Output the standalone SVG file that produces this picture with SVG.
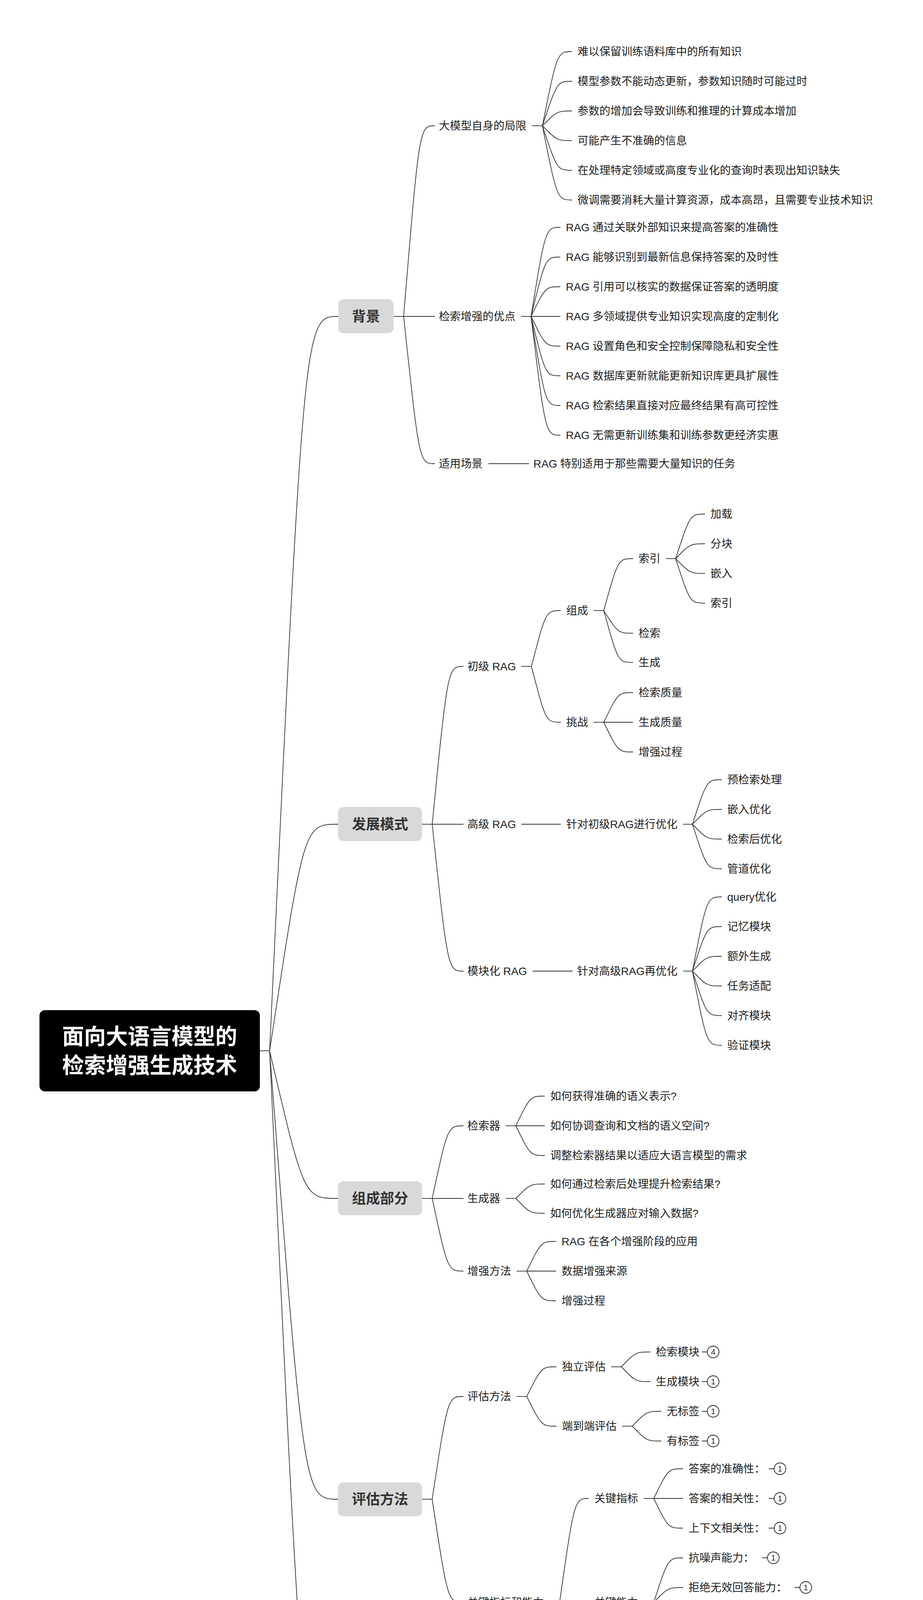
<svg xmlns="http://www.w3.org/2000/svg" width="2362" height="4772" viewBox="0 0 2362 4772">
<style>
text{font-family:"Liberation Sans","Noto Sans CJK SC",sans-serif;}
.t{font-size:28px;fill:#1e1e1e;}
.h{font-size:36px;font-weight:bold;fill:#333333;text-anchor:middle;}
.r{font-size:56px;font-weight:bold;fill:#ffffff;text-anchor:middle;}
.box{fill:#d9d9d9;}
.c path{fill:none;stroke:#333333;stroke-width:1.8;}
.bd line{stroke:#222222;stroke-width:1.8;}
.bd circle{fill:#ffffff;stroke:#222222;stroke-width:1.8;}
.bn{font-size:20px;fill:#222222;text-anchor:middle;}
</style>
<rect width="2362" height="4772" fill="#ffffff"/>
<g id="connectors" class="c">
<path d="M665 2690 L690 2690"/>
<path d="M690 2690 C778 810 778 810 866 810"/>
<path d="M690 2690 C778 2110 778 2110 865 2110"/>
<path d="M690 2690 C778 3068 778 3068 865 3068"/>
<path d="M690 2690 C778 3838 778 3838 865 3838"/>
<path d="M690 2690 C778 4570 778 4570 866 4570"/>
<path d="M1007 810 L1033 810"/>
<path d="M1080 2110 L1106 2110"/>
<path d="M1080 3068 L1106 3068"/>
<path d="M1080 3838 L1106 3838"/>
<path d="M1260 4570 L1286 4570"/>
<path d="M1033 810 C1073 322 1073 322 1113 322"/>
<path d="M1033 810 L1113 810"/>
<path d="M1033 810 C1073 1187 1073 1187 1113 1187"/>
<path d="M1361 322 L1388 322"/>
<path d="M1388 322 C1426 132 1426 132 1464 132"/>
<path d="M1388 322 C1426 208 1426 208 1464 208"/>
<path d="M1388 322 C1426 284 1426 284 1464 284"/>
<path d="M1388 322 C1426 360 1426 360 1464 360"/>
<path d="M1388 322 C1426 436 1426 436 1464 436"/>
<path d="M1388 322 C1426 512 1426 512 1464 512"/>
<path d="M1333 810 L1359 810"/>
<path d="M1359 810 C1396 582 1396 582 1434 582"/>
<path d="M1359 810 C1396 658 1396 658 1434 658"/>
<path d="M1359 810 C1396 734 1396 734 1434 734"/>
<path d="M1359 810 L1434 810"/>
<path d="M1359 810 C1396 886 1396 886 1434 886"/>
<path d="M1359 810 C1396 962 1396 962 1434 962"/>
<path d="M1359 810 C1396 1038 1396 1038 1434 1038"/>
<path d="M1359 810 C1396 1114 1396 1114 1434 1114"/>
<path d="M1250 1187 L1354 1187"/>
<path d="M1106 2110 C1146 1706 1146 1706 1186 1706"/>
<path d="M1106 2110 L1186 2110"/>
<path d="M1106 2110 C1146 2486 1146 2486 1186 2486"/>
<path d="M1334 1706 L1360 1706"/>
<path d="M1360 1706 C1397 1563 1397 1563 1435 1563"/>
<path d="M1360 1706 C1397 1849 1397 1849 1435 1849"/>
<path d="M1519 1563 L1545 1563"/>
<path d="M1545 1563 C1582 1430 1582 1430 1620 1430"/>
<path d="M1545 1563 C1582 1621 1582 1621 1620 1621"/>
<path d="M1545 1563 C1582 1696 1582 1696 1620 1696"/>
<path d="M1704 1430 L1729 1430"/>
<path d="M1729 1430 C1766 1316 1766 1316 1804 1316"/>
<path d="M1729 1430 C1766 1392 1766 1392 1804 1392"/>
<path d="M1729 1430 C1766 1468 1766 1468 1804 1468"/>
<path d="M1729 1430 C1766 1544 1766 1544 1804 1544"/>
<path d="M1519 1849 L1545 1849"/>
<path d="M1545 1849 C1582 1773 1582 1773 1620 1773"/>
<path d="M1545 1849 L1620 1849"/>
<path d="M1545 1849 C1582 1925 1582 1925 1620 1925"/>
<path d="M1334 2110 L1435 2110"/>
<path d="M1748 2110 L1772 2110"/>
<path d="M1772 2110 C1809 1996 1809 1996 1847 1996"/>
<path d="M1772 2110 C1809 2072 1809 2072 1847 2072"/>
<path d="M1772 2110 C1809 2148 1809 2148 1847 2148"/>
<path d="M1772 2110 C1809 2224 1809 2224 1847 2224"/>
<path d="M1363 2486 L1465 2486"/>
<path d="M1748 2486 L1772 2486"/>
<path d="M1772 2486 C1809 2296 1809 2296 1847 2296"/>
<path d="M1772 2486 C1809 2372 1809 2372 1847 2372"/>
<path d="M1772 2486 C1809 2448 1809 2448 1847 2448"/>
<path d="M1772 2486 C1809 2524 1809 2524 1847 2524"/>
<path d="M1772 2486 C1809 2600 1809 2600 1847 2600"/>
<path d="M1772 2486 C1809 2676 1809 2676 1847 2676"/>
<path d="M1106 3068 C1146 2882 1146 2882 1186 2882"/>
<path d="M1106 3068 L1186 3068"/>
<path d="M1106 3068 C1146 3254 1146 3254 1186 3254"/>
<path d="M1294 2882 L1320 2882"/>
<path d="M1320 2882 C1357 2806 1357 2806 1394 2806"/>
<path d="M1320 2882 L1394 2882"/>
<path d="M1320 2882 C1357 2958 1357 2958 1394 2958"/>
<path d="M1294 3068 L1320 3068"/>
<path d="M1320 3068 C1357 3031 1357 3031 1394 3031"/>
<path d="M1320 3068 C1357 3106 1357 3106 1394 3106"/>
<path d="M1322 3254 L1348 3254"/>
<path d="M1348 3254 C1385 3178 1385 3178 1423 3178"/>
<path d="M1348 3254 L1423 3254"/>
<path d="M1348 3254 C1385 3330 1385 3330 1423 3330"/>
<path d="M1106 3838 C1146 3575 1146 3575 1186 3575"/>
<path d="M1106 3838 C1146 4102 1146 4102 1186 4102"/>
<path d="M1322 3575 L1348 3575"/>
<path d="M1348 3575 C1386 3499 1386 3499 1424 3499"/>
<path d="M1348 3575 C1386 3651 1386 3651 1424 3651"/>
<path d="M1564 3499 L1590 3499"/>
<path d="M1590 3499 C1627 3461 1627 3461 1664 3461"/>
<path d="M1590 3499 C1627 3537 1627 3537 1664 3537"/>
<path d="M1592 3651 L1618 3651"/>
<path d="M1618 3651 C1655 3613 1655 3613 1692 3613"/>
<path d="M1618 3651 C1655 3689 1655 3689 1692 3689"/>
<path d="M1406 4102 L1432 4102"/>
<path d="M1432 4102 C1470 3836 1470 3836 1507 3836"/>
<path d="M1432 4102 L1507 4102"/>
<path d="M1432 4102 C1470 4328 1470 4328 1507 4328"/>
<path d="M1647 3836 L1673 3836"/>
<path d="M1673 3836 C1710 3760 1710 3760 1748 3760"/>
<path d="M1673 3836 L1748 3836"/>
<path d="M1673 3836 C1710 3912 1710 3912 1748 3912"/>
<path d="M1647 4102 L1673 4102"/>
<path d="M1673 4102 C1710 3988 1710 3988 1748 3988"/>
<path d="M1673 4102 C1710 4064 1710 4064 1748 4064"/>
<path d="M1673 4102 C1710 4140 1710 4140 1748 4140"/>
<path d="M1673 4102 C1710 4216 1710 4216 1748 4216"/>
<path d="M1647 4328 L1673 4328"/>
<path d="M1673 4328 C1710 4290 1710 4290 1748 4290"/>
<path d="M1673 4328 C1710 4366 1710 4366 1748 4366"/>
<path d="M1286 4570 C1325 4497 1325 4497 1365 4497"/>
<path d="M1286 4570 L1365 4570"/>
<path d="M1286 4570 C1325 4643 1325 4643 1365 4643"/>
</g>
<g id="root">
<rect x="101" y="2586" width="564" height="208" rx="14" fill="#000000"/>
<text class="r" x="383" y="2673">面向大语言模型的</text>
<text class="r" x="383" y="2747">检索增强生成技术</text>
</g>
<g id="n-bg"><rect class="box" x="866" y="766" width="141" height="87" rx="13"/><text class="h" x="936.5" y="823">背景</text></g>
<g id="n-dev"><rect class="box" x="865" y="2066" width="215" height="87" rx="13"/><text class="h" x="972.5" y="2123">发展模式</text></g>
<g id="n-comp"><rect class="box" x="865" y="3024" width="215" height="87" rx="13"/><text class="h" x="972.5" y="3081">组成部分</text></g>
<g id="n-eval"><rect class="box" x="865" y="3795" width="215" height="87" rx="13"/><text class="h" x="972.5" y="3851">评估方法</text></g>
<g id="n-future"><rect class="box" x="866" y="4526" width="394" height="87" rx="13"/><text class="h" x="1063" y="4583">未来可能的研究方向</text></g>

<g id="n-limit"><text class="t" x="1123" y="332">大模型自身的局限</text></g>
<g id="n-limit-1"><text class="t" x="1478" y="142">难以保留训练语料库中的所有知识</text></g>
<g id="n-limit-2"><text class="t" x="1478" y="218">模型参数不能动态更新，参数知识随时可能过时</text></g>
<g id="n-limit-3"><text class="t" x="1478" y="294">参数的增加会导致训练和推理的计算成本增加</text></g>
<g id="n-limit-4"><text class="t" x="1478" y="370">可能产生不准确的信息</text></g>
<g id="n-limit-5"><text class="t" x="1478" y="446">在处理特定领域或高度专业化的查询时表现出知识缺失</text></g>
<g id="n-limit-6"><text class="t" x="1478" y="522">微调需要消耗大量计算资源，成本高昂，且需要专业技术知识</text></g>
<g id="n-adv"><text class="t" x="1123" y="820">检索增强的优点</text></g>
<g id="n-adv-1"><text class="t" x="1448" y="592">RAG 通过关联外部知识来提高答案的准确性</text></g>
<g id="n-adv-2"><text class="t" x="1448" y="668">RAG 能够识别到最新信息保持答案的及时性</text></g>
<g id="n-adv-3"><text class="t" x="1448" y="744">RAG 引用可以核实的数据保证答案的透明度</text></g>
<g id="n-adv-4"><text class="t" x="1448" y="820">RAG 多领域提供专业知识实现高度的定制化</text></g>
<g id="n-adv-5"><text class="t" x="1448" y="896">RAG 设置角色和安全控制保障隐私和安全性</text></g>
<g id="n-adv-6"><text class="t" x="1448" y="972">RAG 数据库更新就能更新知识库更具扩展性</text></g>
<g id="n-adv-7"><text class="t" x="1448" y="1048">RAG 检索结果直接对应最终结果有高可控性</text></g>
<g id="n-adv-8"><text class="t" x="1448" y="1124">RAG 无需更新训练集和训练参数更经济实惠</text></g>
<g id="n-scene"><text class="t" x="1123" y="1197">适用场景</text></g>
<g id="n-scene-1"><text class="t" x="1365" y="1197">RAG 特别适用于那些需要大量知识的任务</text></g>

<g id="n-naive"><text class="t" x="1196" y="1716">初级 RAG</text></g>
<g id="n-naive-comp"><text class="t" x="1449" y="1573">组成</text></g>
<g id="n-index"><text class="t" x="1634" y="1440">索引</text></g>
<g id="n-index-1"><text class="t" x="1818" y="1326">加载</text></g>
<g id="n-index-2"><text class="t" x="1818" y="1402">分块</text></g>
<g id="n-index-3"><text class="t" x="1818" y="1478">嵌入</text></g>
<g id="n-index-4"><text class="t" x="1818" y="1554">索引</text></g>
<g id="n-retrieve"><text class="t" x="1634" y="1631">检索</text></g>
<g id="n-generate"><text class="t" x="1634" y="1706">生成</text></g>
<g id="n-challenge"><text class="t" x="1449" y="1859">挑战</text></g>
<g id="n-challenge-1"><text class="t" x="1634" y="1783">检索质量</text></g>
<g id="n-challenge-2"><text class="t" x="1634" y="1859">生成质量</text></g>
<g id="n-challenge-3"><text class="t" x="1634" y="1935">增强过程</text></g>
<g id="n-adv-rag"><text class="t" x="1196" y="2120">高级 RAG</text></g>
<g id="n-adv-rag-opt"><text class="t" x="1449" y="2120">针对初级RAG进行优化</text></g>
<g id="n-adv-rag-1"><text class="t" x="1861" y="2006">预检索处理</text></g>
<g id="n-adv-rag-2"><text class="t" x="1861" y="2082">嵌入优化</text></g>
<g id="n-adv-rag-3"><text class="t" x="1861" y="2158">检索后优化</text></g>
<g id="n-adv-rag-4"><text class="t" x="1861" y="2234">管道优化</text></g>
<g id="n-mod-rag"><text class="t" x="1196" y="2496">模块化 RAG</text></g>
<g id="n-mod-rag-opt"><text class="t" x="1477" y="2496">针对高级RAG再优化</text></g>
<g id="n-mod-rag-1"><text class="t" x="1861" y="2306">query优化</text></g>
<g id="n-mod-rag-2"><text class="t" x="1861" y="2382">记忆模块</text></g>
<g id="n-mod-rag-3"><text class="t" x="1861" y="2458">额外生成</text></g>
<g id="n-mod-rag-4"><text class="t" x="1861" y="2534">任务适配</text></g>
<g id="n-mod-rag-5"><text class="t" x="1861" y="2610">对齐模块</text></g>
<g id="n-mod-rag-6"><text class="t" x="1861" y="2686">验证模块</text></g>

<g id="n-retriever"><text class="t" x="1196" y="2892">检索器</text></g>
<g id="n-retriever-1"><text class="t" x="1408" y="2816">如何获得准确的语义表示?</text></g>
<g id="n-retriever-2"><text class="t" x="1408" y="2892">如何协调查询和文档的语义空间?</text></g>
<g id="n-retriever-3"><text class="t" x="1408" y="2968">调整检索器结果以适应大语言模型的需求</text></g>
<g id="n-generator"><text class="t" x="1196" y="3078">生成器</text></g>
<g id="n-generator-1"><text class="t" x="1408" y="3041">如何通过检索后处理提升检索结果?</text></g>
<g id="n-generator-2"><text class="t" x="1408" y="3116">如何优化生成器应对输入数据?</text></g>
<g id="n-augment"><text class="t" x="1196" y="3264">增强方法</text></g>
<g id="n-augment-1"><text class="t" x="1437" y="3188">RAG 在各个增强阶段的应用</text></g>
<g id="n-augment-2"><text class="t" x="1437" y="3264">数据增强来源</text></g>
<g id="n-augment-3"><text class="t" x="1437" y="3340">增强过程</text></g>

<g id="n-eval-method"><text class="t" x="1196" y="3585">评估方法</text></g>
<g id="n-indep"><text class="t" x="1438" y="3509">独立评估</text></g>
<g id="n-indep-1" class="bd"><text class="t" x="1678" y="3471">检索模块</text><line x1="1796" y1="3461" x2="1810" y2="3461"/><circle cx="1825" cy="3461" r="15"/><text class="bn" x="1825" y="3468">4</text></g>
<g id="n-indep-2" class="bd"><text class="t" x="1678" y="3547">生成模块</text><line x1="1796" y1="3537" x2="1810" y2="3537"/><circle cx="1825" cy="3537" r="15"/><text class="bn" x="1825" y="3544">1</text></g>
<g id="n-e2e"><text class="t" x="1438" y="3661">端到端评估</text></g>
<g id="n-e2e-1" class="bd"><text class="t" x="1706" y="3623">无标签</text><line x1="1796" y1="3613" x2="1810" y2="3613"/><circle cx="1825" cy="3613" r="15"/><text class="bn" x="1825" y="3620">1</text></g>
<g id="n-e2e-2" class="bd"><text class="t" x="1706" y="3699">有标签</text><line x1="1796" y1="3689" x2="1810" y2="3689"/><circle cx="1825" cy="3689" r="15"/><text class="bn" x="1825" y="3696">1</text></g>
<g id="n-metric-ability"><text class="t" x="1196" y="4112">关键指标和能力</text></g>
<g id="n-metric"><text class="t" x="1521" y="3846">关键指标</text></g>
<g id="n-metric-1" class="bd"><text class="t" x="1762" y="3770">答案的准确性：</text><line x1="1967" y1="3760" x2="1981" y2="3760"/><circle cx="1996" cy="3760" r="15"/><text class="bn" x="1996" y="3767">1</text></g>
<g id="n-metric-2" class="bd"><text class="t" x="1762" y="3846">答案的相关性：</text><line x1="1967" y1="3836" x2="1981" y2="3836"/><circle cx="1996" cy="3836" r="15"/><text class="bn" x="1996" y="3843">1</text></g>
<g id="n-metric-3" class="bd"><text class="t" x="1762" y="3922">上下文相关性：</text><line x1="1967" y1="3912" x2="1981" y2="3912"/><circle cx="1996" cy="3912" r="15"/><text class="bn" x="1996" y="3919">1</text></g>
<g id="n-ability"><text class="t" x="1521" y="4112">关键能力</text></g>
<g id="n-ability-1" class="bd"><text class="t" x="1762" y="3998">抗噪声能力：</text><line x1="1950" y1="3988" x2="1964" y2="3988"/><circle cx="1979" cy="3988" r="15"/><text class="bn" x="1979" y="3995">1</text></g>
<g id="n-ability-2" class="bd"><text class="t" x="1762" y="4074">拒绝无效回答能力：</text><line x1="2033" y1="4064" x2="2047" y2="4064"/><circle cx="2062" cy="4064" r="15"/><text class="bn" x="2062" y="4071">1</text></g>
<g id="n-ability-3" class="bd"><text class="t" x="1762" y="4150">信息综合能力：</text><line x1="1977" y1="4140" x2="1991" y2="4140"/><circle cx="2006" cy="4140" r="15"/><text class="bn" x="2006" y="4147">1</text></g>
<g id="n-ability-4" class="bd"><text class="t" x="1762" y="4226">反事实鲁棒性测试：</text><line x1="2033" y1="4216" x2="2047" y2="4216"/><circle cx="2062" cy="4216" r="15"/><text class="bn" x="2062" y="4223">1</text></g>
<g id="n-framework"><text class="t" x="1521" y="4338">评估框架</text></g>
<g id="n-framework-1" class="bd"><text class="t" x="1762" y="4300">RAGAS</text><line x1="1867" y1="4290" x2="1881" y2="4290"/><circle cx="1896" cy="4290" r="15"/><text class="bn" x="1896" y="4297">3</text></g>
<g id="n-framework-2" class="bd"><text class="t" x="1762" y="4376">ARES</text><line x1="1846" y1="4366" x2="1860" y2="4366"/><circle cx="1875" cy="4366" r="15"/><text class="bn" x="1875" y="4373">3</text></g>

<g id="n-future-1"><text class="t" x="1377" y="4507">垂直优化</text></g>
<g id="n-future-2"><text class="t" x="1377" y="4580">水平扩展性</text></g>
<g id="n-future-3"><text class="t" x="1377" y="4653">RAG 的技术堆栈及生态系统</text></g>
</svg>
